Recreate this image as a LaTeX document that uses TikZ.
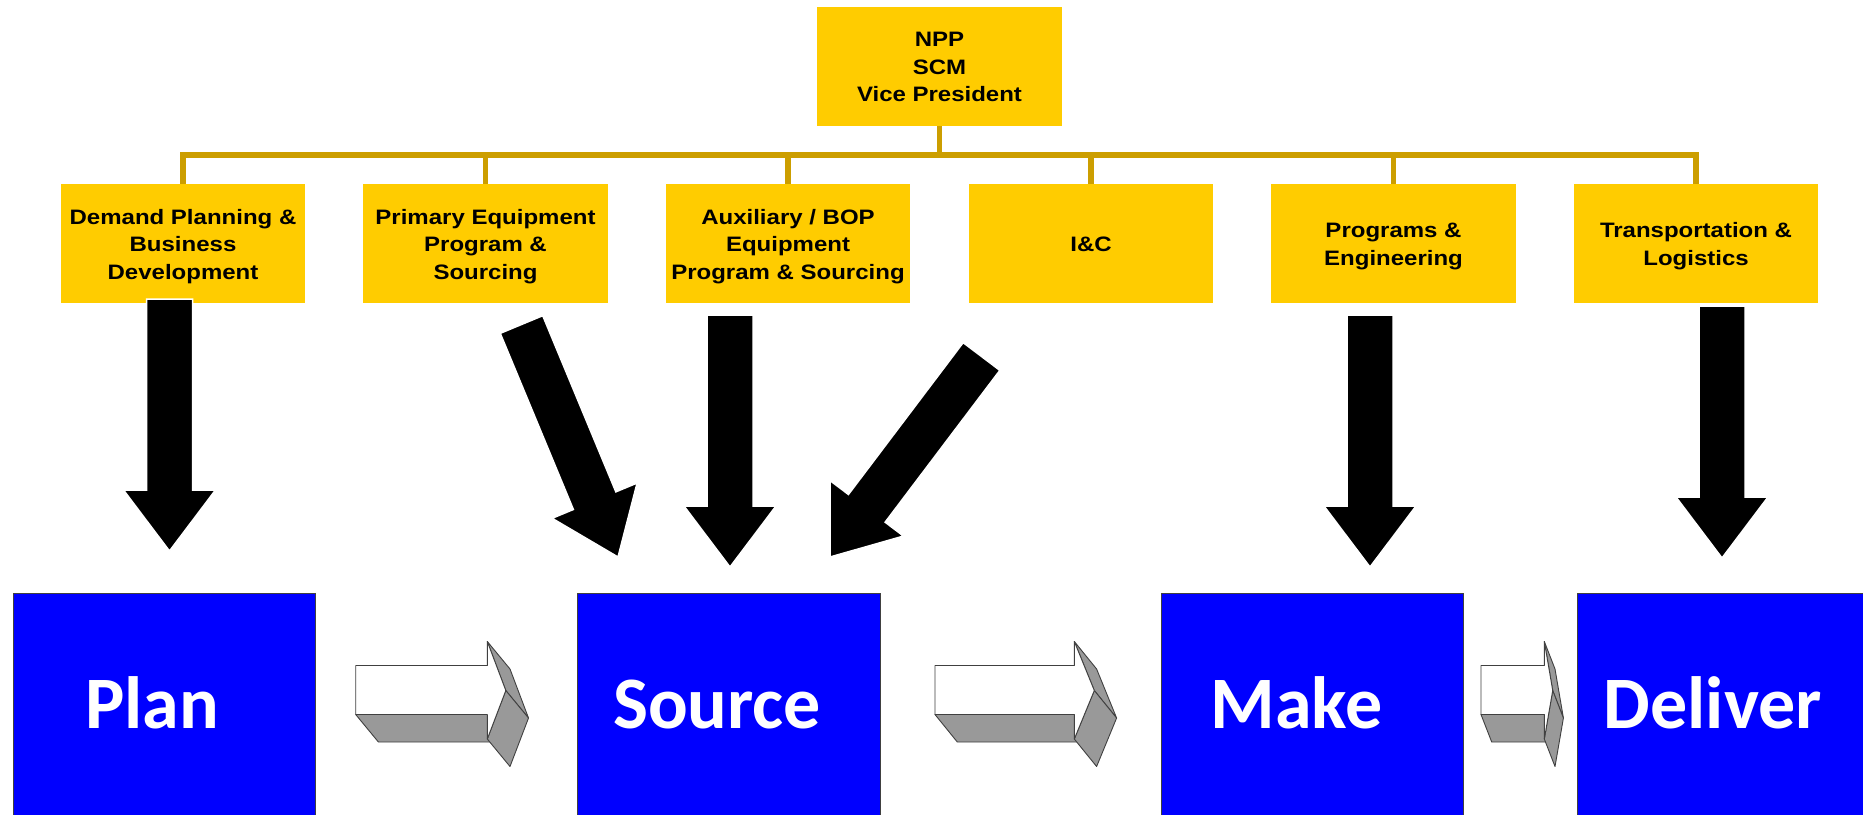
\documentclass[tikz,border=0pt]{standalone}
\usepackage{fontspec}
\usepackage{graphicx}
\setmainfont{Liberation Sans}
\newfontfamily\stagefont{Carlito}
\usetikzlibrary{calc}

\definecolor{orgyellow}{HTML}{FFCC00}
\definecolor{orgline}{RGB}{204,158,0}
\definecolor{stageblue}{HTML}{0000FF}
\definecolor{facegray}{HTML}{999999}

% centred lines of unit text, set slightly squat
\newcommand\unitlines[1]{\scalebox{1}[0.87]{\begin{tabular}{@{}c@{}}#1\end{tabular}}}

% thick black block arrow from #1 (tail centre) to #2 (tip)
\newcommand\blockarrow[2]{%
  \coordinate (hb) at ($(#2)!61pt!(#1)$);
  \filldraw[fill=black, draw=white, line width=1.5pt]
    ($(#1)!23pt!90:(#2)$) -- ($(hb)!23pt!90:(#2)$) -- ($(hb)!46pt!90:(#2)$)
    -- (#2)
    -- ($(hb)!46pt!-90:(#2)$) -- ($(hb)!23pt!-90:(#2)$) -- ($(#1)!23pt!-90:(#2)$) -- cycle;
}

% extruded flow arrow: #1 left x, #2 body right x, #3 tip offset, #4 depth offset
\newcommand\flowarrow[4]{%
  \filldraw[face] (#1,714.5) -- (#2,714.5) -- ({#2+#4},742) -- ({#1+#4},742) -- cycle;
  \filldraw[face] (#2,641.5) -- ({#2+#4},669) -- ({#2+#3+#4},718) -- ({#2+#3},690.5) -- cycle;
  \filldraw[face] ({#2+#3},690.5) -- ({#2+#3+#4},718) -- ({#2+#4},766.5) -- (#2,739) -- cycle;
  \filldraw[front] (#1,665.5) -- (#2,665.5) -- (#2,641.5) -- ({#2+#3},690.5)
    -- (#2,739) -- (#2,714.5) -- (#1,714.5) -- cycle;
}

\begin{document}
\begin{tikzpicture}[x=1pt, y=-1pt,
  unit/.style={fill=orgyellow, minimum width=244.5pt, minimum height=119pt, inner sep=0pt},
  unitlabel/.style={inner sep=0pt, font=\bfseries\fontsize{24}{31.6}\selectfont},
  tie/.style={draw=orgline, line width=5.5pt},
  stage/.style={fill=stageblue, draw=black!75, line width=1pt, anchor=north west,
    minimum width=302.3pt, minimum height=260pt, inner sep=0pt},
  stagelabel/.style={text=white, anchor=base, inner sep=0pt,
    font=\stagefont\bfseries\fontsize{74}{80}\selectfont},
  face/.style={fill=facegray, draw=black!75, line width=0.9pt, line join=round},
  front/.style={fill=white, draw=black!75, line width=0.9pt, line join=round}
]
\useasboundingbox (0,0) rectangle (1863,814);
\fill[white] (0,0) rectangle (1863,814);
\clip (0,0) rectangle (1863,814);

% organisation chart
\node[unit] (vp) at (939.5,66.5) {};
\node[unit] (u1) at (183,243.5) {};
\node[unit] (u2) at (485.5,243.5) {};
\node[unit] (u3) at (788,243.5) {};
\node[unit] (u4) at (1091,243.5) {};
\node[unit] (u5) at (1393.5,243.5) {};
\node[unit] (u6) at (1696,243.5) {};
\node[unitlabel] (vpt) at ($(vp.center)+(0,2.2)$) {\unitlines{NPP\\SCM\\Vice President}};
\node[unitlabel] (u1t) at ($(u1.center)+(0,2.6)$) {\unitlines{Demand Planning \&\\Business\\Development}};
\node[unitlabel] (u2t) at ($(u2.center)+(0,2.6)$) {\unitlines{Primary Equipment\\Program \&\\Sourcing}};
\node[unitlabel] (u3t) at ($(u3.center)+(0,2.6)$) {\unitlines{Auxiliary / BOP\\Equipment\\Program \& Sourcing}};
\node[unitlabel] (u4t) at ($(u4.center)+(0,2.8)$) {\unitlines{I\&C}};
\node[unitlabel] (u5t) at ($(u5.center)+(0,2.6)$) {\unitlines{Programs \&\\Engineering}};
\node[unitlabel] (u6t) at ($(u6.center)+(0,2.6)$) {\unitlines{Transportation \&\\Logistics}};

\coordinate (bar) at (0,155);
\draw[tie] (vp.south) -- (vp.south |- bar);
\draw[tie] (u1.north) -- (u1.north |- bar) -- (u6.north |- bar) -- (u6.north);
\foreach \u in {u2,u3,u4,u5} \draw[tie] (\u.north) -- (\u.north |- bar);

% process stages
\node[stage] (plan) at (12.7,592.7) {};
\node[stage] (source) at (577.4,592.7) {};
\node[stage] (make) at (1160.7,592.7) {};
\node[stage] (deliver) at (1577.3,592.7) {};
\node[stagelabel] (planlbl) at (152,728) {Plan};
\node[stagelabel] (sourcelbl) at (717,728) {Source};
\node[stagelabel] (makelbl) at (1296.5,728) {Make};
\node[stagelabel] (deliverlbl) at (1713,728) {Deliver};

% flow between stages
\flowarrow{355.7}{487.3}{18.5}{22.7}
\flowarrow{935}{1074.3}{20}{22.3}
\flowarrow{1481}{1544.3}{8.4}{10.7}

% responsibilities
\coordinate (t1) at (169.5,299);  \coordinate (p1) at (169.5,551);
\coordinate (t2) at (521.5,324.5); \coordinate (p2) at (618,557);
\coordinate (t3) at (730,315);    \coordinate (p3) at (730,567);
\coordinate (t4) at (981.5,356.5); \coordinate (p4) at (830,557);
\coordinate (t5) at (1370,315);   \coordinate (p5) at (1370,567);
\coordinate (t6) at (1722,306);   \coordinate (p6) at (1722,558);
\blockarrow{t1}{p1}
\blockarrow{t2}{p2}
\blockarrow{t3}{p3}
\blockarrow{t4}{p4}
\blockarrow{t5}{p5}
\blockarrow{t6}{p6}
\end{tikzpicture}
\end{document}
